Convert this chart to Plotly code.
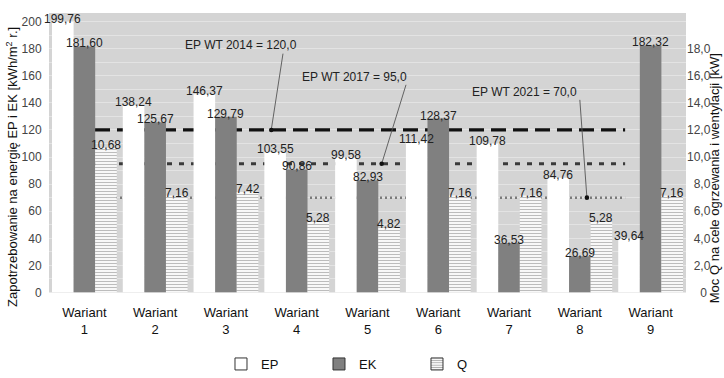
import plotly.graph_objects as go

# --- data -----------------------------------------------------------------
categories = ["Wariant<br>1", "Wariant<br>2", "Wariant<br>3", "Wariant<br>4", "Wariant<br>5",
              "Wariant<br>6", "Wariant<br>7", "Wariant<br>8", "Wariant<br>9"]
ep_values = [199.76, 138.24, 146.37, 103.55, 99.58, 111.42, 109.78, 84.76, 39.64]
ek_values = [181.60, 125.67, 129.79, 90.86, 82.93, 128.37, 36.53, 26.69, 182.32]
q_values = [10.68, 7.16, 7.42, 5.28, 4.82, 7.16, 7.16, 5.28, 7.16]

limit_values = [120.0, 95.0, 70.0]
limit_labels = ["EP WT 2014 = 120,0", "EP WT 2017 = 95,0", "EP WT 2021 = 70,0"]

left_tickvals = [0, 20, 40, 60, 80, 100, 120, 140, 160, 180, 200]
left_ticktext = ["0", "20", "40", "60", "80", "100", "120", "140", "160", "180", "200"]
right_tickvals = [0, 2, 4, 6, 8, 10, 12, 14, 16, 18]
right_ticktext = ["\u2007\u20070", "\u20072,0", "\u20074,0", "\u20076,0", "\u20078,0",
                  "10,0", "12,0", "14,0", "16,0", "18,0"]

# --- styling --------------------------------------------------------------
FONT = "Liberation Sans, Arial, sans-serif"
BG = "#d4d4d4"
GRID = "#e3e3e3"
EK_COLOR = "#808080"
BAR_W = 0.305
LEFT_MAX = 206.3
RIGHT_MAX = 20.63

label_font = dict(family=FONT, size=12, color="#222")
stripes = dict(shape="-", size=3, solidity=0.4, fgcolor="#7a7a7a", bgcolor="white")

fig = go.Figure()

series = [
    ("EP", ep_values, "y", -1.5, dict(color="white", line=dict(width=0))),
    ("EK", ek_values, "y", -0.5, dict(color=EK_COLOR, line=dict(width=0))),
    ("Q", q_values, "y2", 0.5, dict(color="white", line=dict(width=0), pattern=stripes)),
]
for name, vals, axis, slot, mk in series:
    fig.add_bar(x=categories, y=vals, name=name, yaxis=axis,
                width=BAR_W, offset=slot * BAR_W, marker=mk, showlegend=False)
    # value labels sit on top of every bar layer
    for i, v in enumerate(vals):
        fig.add_annotation(x=i + (slot + 0.5) * BAR_W, y=v, xref="x", yref=axis,
                           text=f"{v:.2f}".replace(".", ","), showarrow=False,
                           yanchor="bottom", yshift=-6, font=label_font)

# legend entries (outlined swatches)
legend_marks = [
    dict(color="white", line=dict(color="#333", width=1)),
    dict(color=EK_COLOR, line=dict(color="#333", width=1)),
    dict(color="white", line=dict(color="#333", width=1),
         pattern=dict(shape="-", size=3, solidity=0.4, fgcolor="#555", bgcolor="white")),
]
for name, mk in zip(["EP", "EK", "Q"], legend_marks):
    fig.add_bar(x=[None], y=[None], name=name, marker=mk, showlegend=True)

# reference limits: above the grid, underneath the bars
line_styles = [
    dict(color="#111111", width=3.2, dash="15px,7px"),
    dict(color="#3a3a3a", width=3, dash="5px,7px"),
    dict(color="#7a7a7a", width=2.5, dash="2px,3px"),
]
for val, st in zip(limit_values, line_styles):
    fig.add_shape(type="line", xref="x", yref="y", x0=0.15, x1=7.64,
                  y0=val, y1=val, line=st, layer="between")

# limit captions with leader lines ending in a dot on the limit line
caption_pos = [(2.21, 182.6), (3.81, 158.9), (6.22, 147.8)]
leader_head_x = [2.64, 4.20, 7.10]
leader_tail = [(2.806, 176.3), (4.544, 153.3), (7.0, 142.2)]
for text, (cx, cy), hx, (tx, ty), val in zip(limit_labels, caption_pos, leader_head_x,
                                             leader_tail, limit_values):
    fig.add_annotation(x=cx, y=cy, xref="x", yref="y", text=text, showarrow=False,
                       font=dict(family=FONT, size=12, color="#222"))
    fig.add_shape(type="line", xref="x", yref="y", x0=tx, y0=ty, x1=hx, y1=val,
                  line=dict(color="#555", width=0.9))
    fig.add_shape(type="circle", xref="x", yref="y", xsizemode="pixel", ysizemode="pixel",
                  xanchor=hx, yanchor=val, x0=-2.3, x1=2.3, y0=-2.3, y1=2.3,
                  fillcolor="#111", line=dict(width=0))

# axis titles
fig.add_annotation(x=-0.0581, y=0.449, xref="paper", yref="paper",
                   text="Zapotrzebowanie na energię EP i EK [kWh/m<sup>2</sup> r.]",
                   textangle=-90, showarrow=False, xanchor="center", yanchor="middle",
                   font=dict(family=FONT, size=13, color="#111"))
fig.add_annotation(x=1.044, y=0.409, xref="paper", yref="paper",
                   text="Moc Q na cele ogrzewania i wentylacji [kW]",
                   textangle=-90, showarrow=False, xanchor="center", yanchor="middle",
                   font=dict(family=FONT, size=13, color="#111"))

fig.update_layout(
    width=724, height=378,
    margin=dict(l=49, r=38, t=13, b=69),
    paper_bgcolor="white", plot_bgcolor=BG,
    barmode="overlay",
    separators=", ",
    font=dict(family=FONT, size=12, color="#222"),
    xaxis=dict(
        type="category", range=[-0.5, 8.5], showgrid=False, zeroline=False,
        ticks="outside", ticklen=8, tickcolor="rgba(0,0,0,0)",
        tickfont=dict(family=FONT, size=13, color="#111"), showline=False,
    ),
    yaxis=dict(
        range=[0, LEFT_MAX], tickvals=left_tickvals, ticktext=left_ticktext,
        showgrid=True, gridcolor=GRID, gridwidth=1, zeroline=False,
        minor=dict(tick0=0, dtick=10, showgrid=True, gridcolor=GRID, gridwidth=1),
        ticks="outside", ticklen=4, tickcolor="rgba(0,0,0,0)",
        tickfont=dict(family=FONT, size=12, color="#444"),
    ),
    yaxis2=dict(
        range=[0, RIGHT_MAX], overlaying="y", side="right",
        tickvals=right_tickvals, ticktext=right_ticktext,
        showgrid=False, zeroline=False, ticks="", ticklen=0,
        tickfont=dict(family=FONT, size=12, color="#444"),
    ),
    legend=dict(
        orientation="h", x=0.27, xanchor="left",
        yref="container", y=0.037, yanchor="middle",
        entrywidth=53, entrywidthmode="pixels",
        font=dict(family=FONT, size=13, color="#111"),
        bgcolor="rgba(0,0,0,0)", traceorder="normal",
    ),
)

fig.write_html("out.html")
